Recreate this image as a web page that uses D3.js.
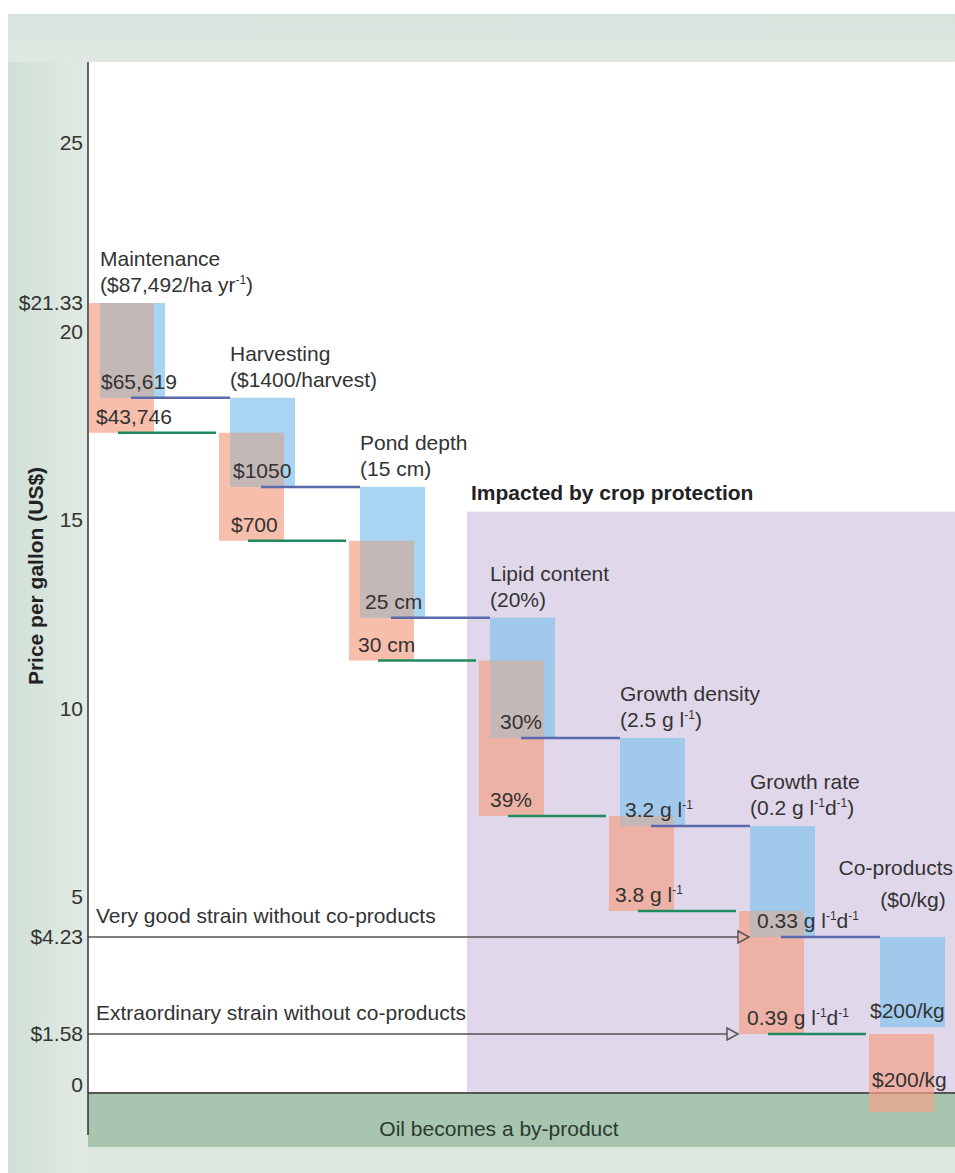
<!DOCTYPE html>
<html>
<head>
<meta charset="utf-8">
<script src="https://cdn.jsdelivr.net/npm/d3@7"></script>
<style>
  html, body { margin: 0; padding: 0; background: #fff; }
  svg { display: block; font-family: "Liberation Sans", Arial, Helvetica, sans-serif; }
</style>
</head>
<body>
<svg id="chart" width="955" height="1173"></svg>
<script>
// Cost-reduction steps for algal oil, from the baseline assumptions down to the strain targets
const categories = ["Maintenance", "Harvesting", "Pond depth", "Lipid content", "Growth density", "Growth rate", "Co-products"];
const baselineAssumptions = ["($87,492/ha yr^-1^)", "($1400/harvest)", "(15 cm)", "(20%)", "(2.5 g l^-1^)", "(0.2 g l^-1^d^-1^)", "($0/kg)"];
const goodStrainTargets = ["$65,619", "$1050", "25 cm", "30%", "3.2 g l^-1^", "0.33 g l^-1^d^-1^", "$200/kg"];
const extraordinaryTargets = ["$43,746", "$700", "30 cm", "39%", "3.8 g l^-1^", "0.39 g l^-1^d^-1^", "$200/kg"];

// Price per gallon (US$) before the first step and after each step
const goodStrainPrice = [21.33, 18.25, 15.88, 12.41, 9.22, 6.88, 4.23, 1.77];
const extraordinaryPrice = [21.33, 17.32, 14.45, 11.27, 7.15, 4.73, 1.58, -0.84];

const yTicks = [0, 5, 10, 15, 20, 25];
const yMarkedPrices = [21.33, 4.23, 1.58];

const strainLines = [
  { label: "Very good strain without co-products", price: 4.23, series: "good" },
  { label: "Extraordinary strain without co-products", price: 1.58, series: "extra" }
];

// ---- layout ----
const W = 955, H = 1173;
const plotLeft = 88, plotTop = 62, groundY = 1093, groundBottom = 1147;
const barW = 65;
const textColor = "#333";
const fontSize = 21;

const svg = d3.select("#chart");

// y scale: piecewise so the annotated prices sit where the figure marks them
const y = d3.scaleLinear()
  .domain([0, 1.58, 4.23, 5, 10, 15, 20, 21.33, 25])
  .range([1085, 1034, 937, 897, 708.5, 520, 332, 303, 143]);

const x = d3.scaleBand().domain(categories).range([plotLeft, plotLeft + 130 * categories.length]).padding(0);
const redX = c => x(c) + 1;
const blueX = c => x(c) + 12;

// ---- background panels ----
const defs = svg.append("defs");
const lg = defs.append("linearGradient").attr("id", "leftStrip").attr("x1", "0").attr("x2", "1").attr("y1", "0").attr("y2", "0");
lg.append("stop").attr("offset", "0%").attr("stop-color", "#d0e0d6");
lg.append("stop").attr("offset", "100%").attr("stop-color", "#e1ebe4");
const tg = defs.append("linearGradient").attr("id", "topStrip").attr("x1", "0").attr("x2", "0").attr("y1", "0").attr("y2", "1");
tg.append("stop").attr("offset", "0%").attr("stop-color", "#d7e4dc");
tg.append("stop").attr("offset", "100%").attr("stop-color", "#dfe9e2");

svg.append("rect").attr("x", 8).attr("y", 14).attr("width", W - 8).attr("height", H - 14).attr("fill", "#dbe7df");
svg.append("rect").attr("x", 8).attr("y", 14).attr("width", W - 8).attr("height", plotTop - 14).attr("fill", "url(#topStrip)");
svg.append("rect").attr("x", 8).attr("y", plotTop).attr("width", plotLeft - 8).attr("height", H - plotTop).attr("fill", "url(#leftStrip)");
svg.append("rect").attr("x", plotLeft).attr("y", plotTop).attr("width", W - plotLeft).attr("height", groundY - plotTop).attr("fill", "#ffffff");

// region affected by crop protection
const zoneX = redX(categories[3]) - 12;
const zoneTop = y(goodStrainPrice[3]) - 106;
svg.append("rect").attr("x", zoneX).attr("y", zoneTop).attr("width", W - zoneX).attr("height", groundY - zoneTop).attr("fill", "#e0d8ea");
svg.append("text").attr("x", zoneX + 4).attr("y", zoneTop - 12)
  .attr("font-size", fontSize).attr("font-weight", "bold").attr("fill", "#222")
  .text("Impacted by crop protection");

// ---- ground band (drawn first so the negative bar shows over it) ----
svg.append("rect").attr("x", plotLeft).attr("y", groundY).attr("width", W - plotLeft).attr("height", groundBottom - groundY).attr("fill", "#a7c5af");
svg.append("line").attr("x1", plotLeft).attr("x2", W).attr("y1", groundY).attr("y2", groundY).attr("stroke", "#555").attr("stroke-width", 2);
svg.append("text").attr("x", 499).attr("y", 1136).attr("text-anchor", "middle")
  .attr("font-size", fontSize).attr("fill", "#2a3a30").text("Oil becomes a by-product");

// ---- helper for labels with superscripts (marked as ^...^) ----
function richText(sel, str) {
  const parts = str.split("^");
  let shifted = false;
  parts.forEach((p, i) => {
    if (!p) return;
    const sup = i % 2 === 1;
    const t = sel.append("tspan").text(p);
    if (sup && !shifted) { t.attr("dy", -8).attr("font-size", 12); shifted = true; }
    else if (sup) { t.attr("font-size", 12); }
    else if (!sup && shifted) { t.attr("dy", 8); shifted = false; }
  });
  return sel;
}

// ---- waterfall bars ----
const steps = categories.map((c, i) => ({
  c, i,
  gTop: goodStrainPrice[i], gBot: goodStrainPrice[i + 1],
  eTop: extraordinaryPrice[i], eBot: extraordinaryPrice[i + 1]
}));

const bars = svg.append("g");
bars.selectAll("rect.extra").data(steps).join("rect").attr("class", "extra")
  .attr("x", d => redX(d.c)).attr("width", barW)
  .attr("y", d => y(d.eTop)).attr("height", d => y(d.eBot) - y(d.eTop))
  .attr("fill", "#f2a288").attr("fill-opacity", 0.7);

bars.selectAll("rect.good").data(steps).join("rect").attr("class", "good")
  .attr("x", d => blueX(d.c)).attr("width", barW)
  .attr("y", d => y(d.gTop)).attr("height", d => y(d.gBot) - y(d.gTop))
  .attr("fill", "#84c3ec").attr("fill-opacity", 0.7);

// where both strains' bars coincide
const overlaps = steps.map(d => {
  const x0 = Math.max(redX(d.c), blueX(d.c)), x1 = Math.min(redX(d.c), blueX(d.c)) + barW;
  const y0 = Math.max(y(d.eTop), y(d.gTop)), y1 = Math.min(y(d.eBot), y(d.gBot));
  return { x0, x1, y0, y1 };
}).filter(o => o.x1 > o.x0 && o.y1 > o.y0);
bars.selectAll("rect.both").data(overlaps).join("rect").attr("class", "both")
  .attr("x", o => o.x0).attr("width", o => o.x1 - o.x0)
  .attr("y", o => o.y0).attr("height", o => o.y1 - o.y0)
  .attr("fill", "#c4b8b7");

// ---- connectors between consecutive steps ----
const links = steps.slice(0, -1);
svg.append("g").selectAll("line").data(links).join("line")
  .attr("x1", d => blueX(d.c) + 31).attr("x2", d => blueX(categories[d.i + 1]))
  .attr("y1", d => y(d.gBot)).attr("y2", d => y(d.gBot))
  .attr("stroke", "#5a6aac").attr("stroke-width", 2.5);
svg.append("g").selectAll("line").data(links).join("line")
  .attr("x1", d => redX(d.c) + 29).attr("x2", d => redX(categories[d.i + 1]) - 3)
  .attr("y1", d => y(d.eBot)).attr("y2", d => y(d.eBot))
  .attr("stroke", "#1f8a60").attr("stroke-width", 2.5);

// ---- strain reference arrows ----
const arrows = svg.append("g");
strainLines.forEach(s => {
  const tipX = s.series === "good" ? blueX(categories[5]) - 1 : redX(categories[5]) - 1;
  const yy = y(s.price);
  arrows.append("line").attr("x1", plotLeft).attr("x2", tipX - 11).attr("y1", yy).attr("y2", yy)
    .attr("stroke", "#555").attr("stroke-width", 1.6);
  arrows.append("path").attr("d", `M${tipX - 11},${yy - 6}L${tipX},${yy}L${tipX - 11},${yy + 6}Z`)
    .attr("fill", "none").attr("stroke", "#555").attr("stroke-width", 1.5);
  arrows.append("text").attr("x", plotLeft + 8).attr("y", yy - 14)
    .attr("font-size", fontSize).attr("fill", textColor).text(s.label);
});

// ---- labels ----
const blueLabelDx = [1, 3, 5, 10, 5, 7, -10];
const redLabelDx = [7, 12, 9, 11, 6, 8, 3];
const labels = svg.append("g").attr("font-size", fontSize).attr("fill", textColor);

steps.forEach((d, i) => {
  const top = y(d.gTop);
  const last = i === categories.length - 1;
  const t1 = labels.append("text").text(d.c);
  const t2 = labels.append("text");
  richText(t2, baselineAssumptions[i]);
  if (last) {
    // right edge of the figure: keep the heading inside the frame
    t1.attr("x", W - 2).attr("y", top - 62).attr("text-anchor", "end");
    t2.attr("x", blueX(d.c) + 33).attr("y", top - 30).attr("text-anchor", "middle");
  } else {
    t1.attr("x", blueX(d.c)).attr("y", top - 37);
    t2.attr("x", blueX(d.c)).attr("y", top - 11);
  }
  richText(labels.append("text").attr("x", blueX(d.c) + blueLabelDx[i]).attr("y", y(d.gBot) - 9), goodStrainTargets[i]);
  richText(labels.append("text").attr("x", redX(d.c) + redLabelDx[i]).attr("y", Math.min(y(d.eBot) - 9, y(0) + 2)), extraordinaryTargets[i]);
});

// ---- y axis ----
const axis = d3.axisLeft(y)
  .tickValues(yTicks.concat(yMarkedPrices))
  .tickSize(0).tickPadding(5)
  .tickFormat(d => yMarkedPrices.includes(d) ? "$" + d.toFixed(2) : d3.format("d")(d));
const ag = svg.append("g").attr("transform", `translate(${plotLeft},0)`).call(axis);
ag.select(".domain").remove();
ag.selectAll("text").attr("font-size", fontSize).attr("fill", textColor).attr("font-family", "Liberation Sans, Arial, sans-serif");

svg.append("line").attr("x1", plotLeft).attr("x2", plotLeft).attr("y1", plotTop).attr("y2", 1135)
  .attr("stroke", "#333").attr("stroke-width", 1.5);

svg.append("text").attr("transform", "translate(43,576) rotate(-90)")
  .attr("text-anchor", "middle").attr("font-size", fontSize).attr("font-weight", "bold").attr("fill", "#222")
  .text("Price per gallon (US$)");
</script>
</body>
</html>
